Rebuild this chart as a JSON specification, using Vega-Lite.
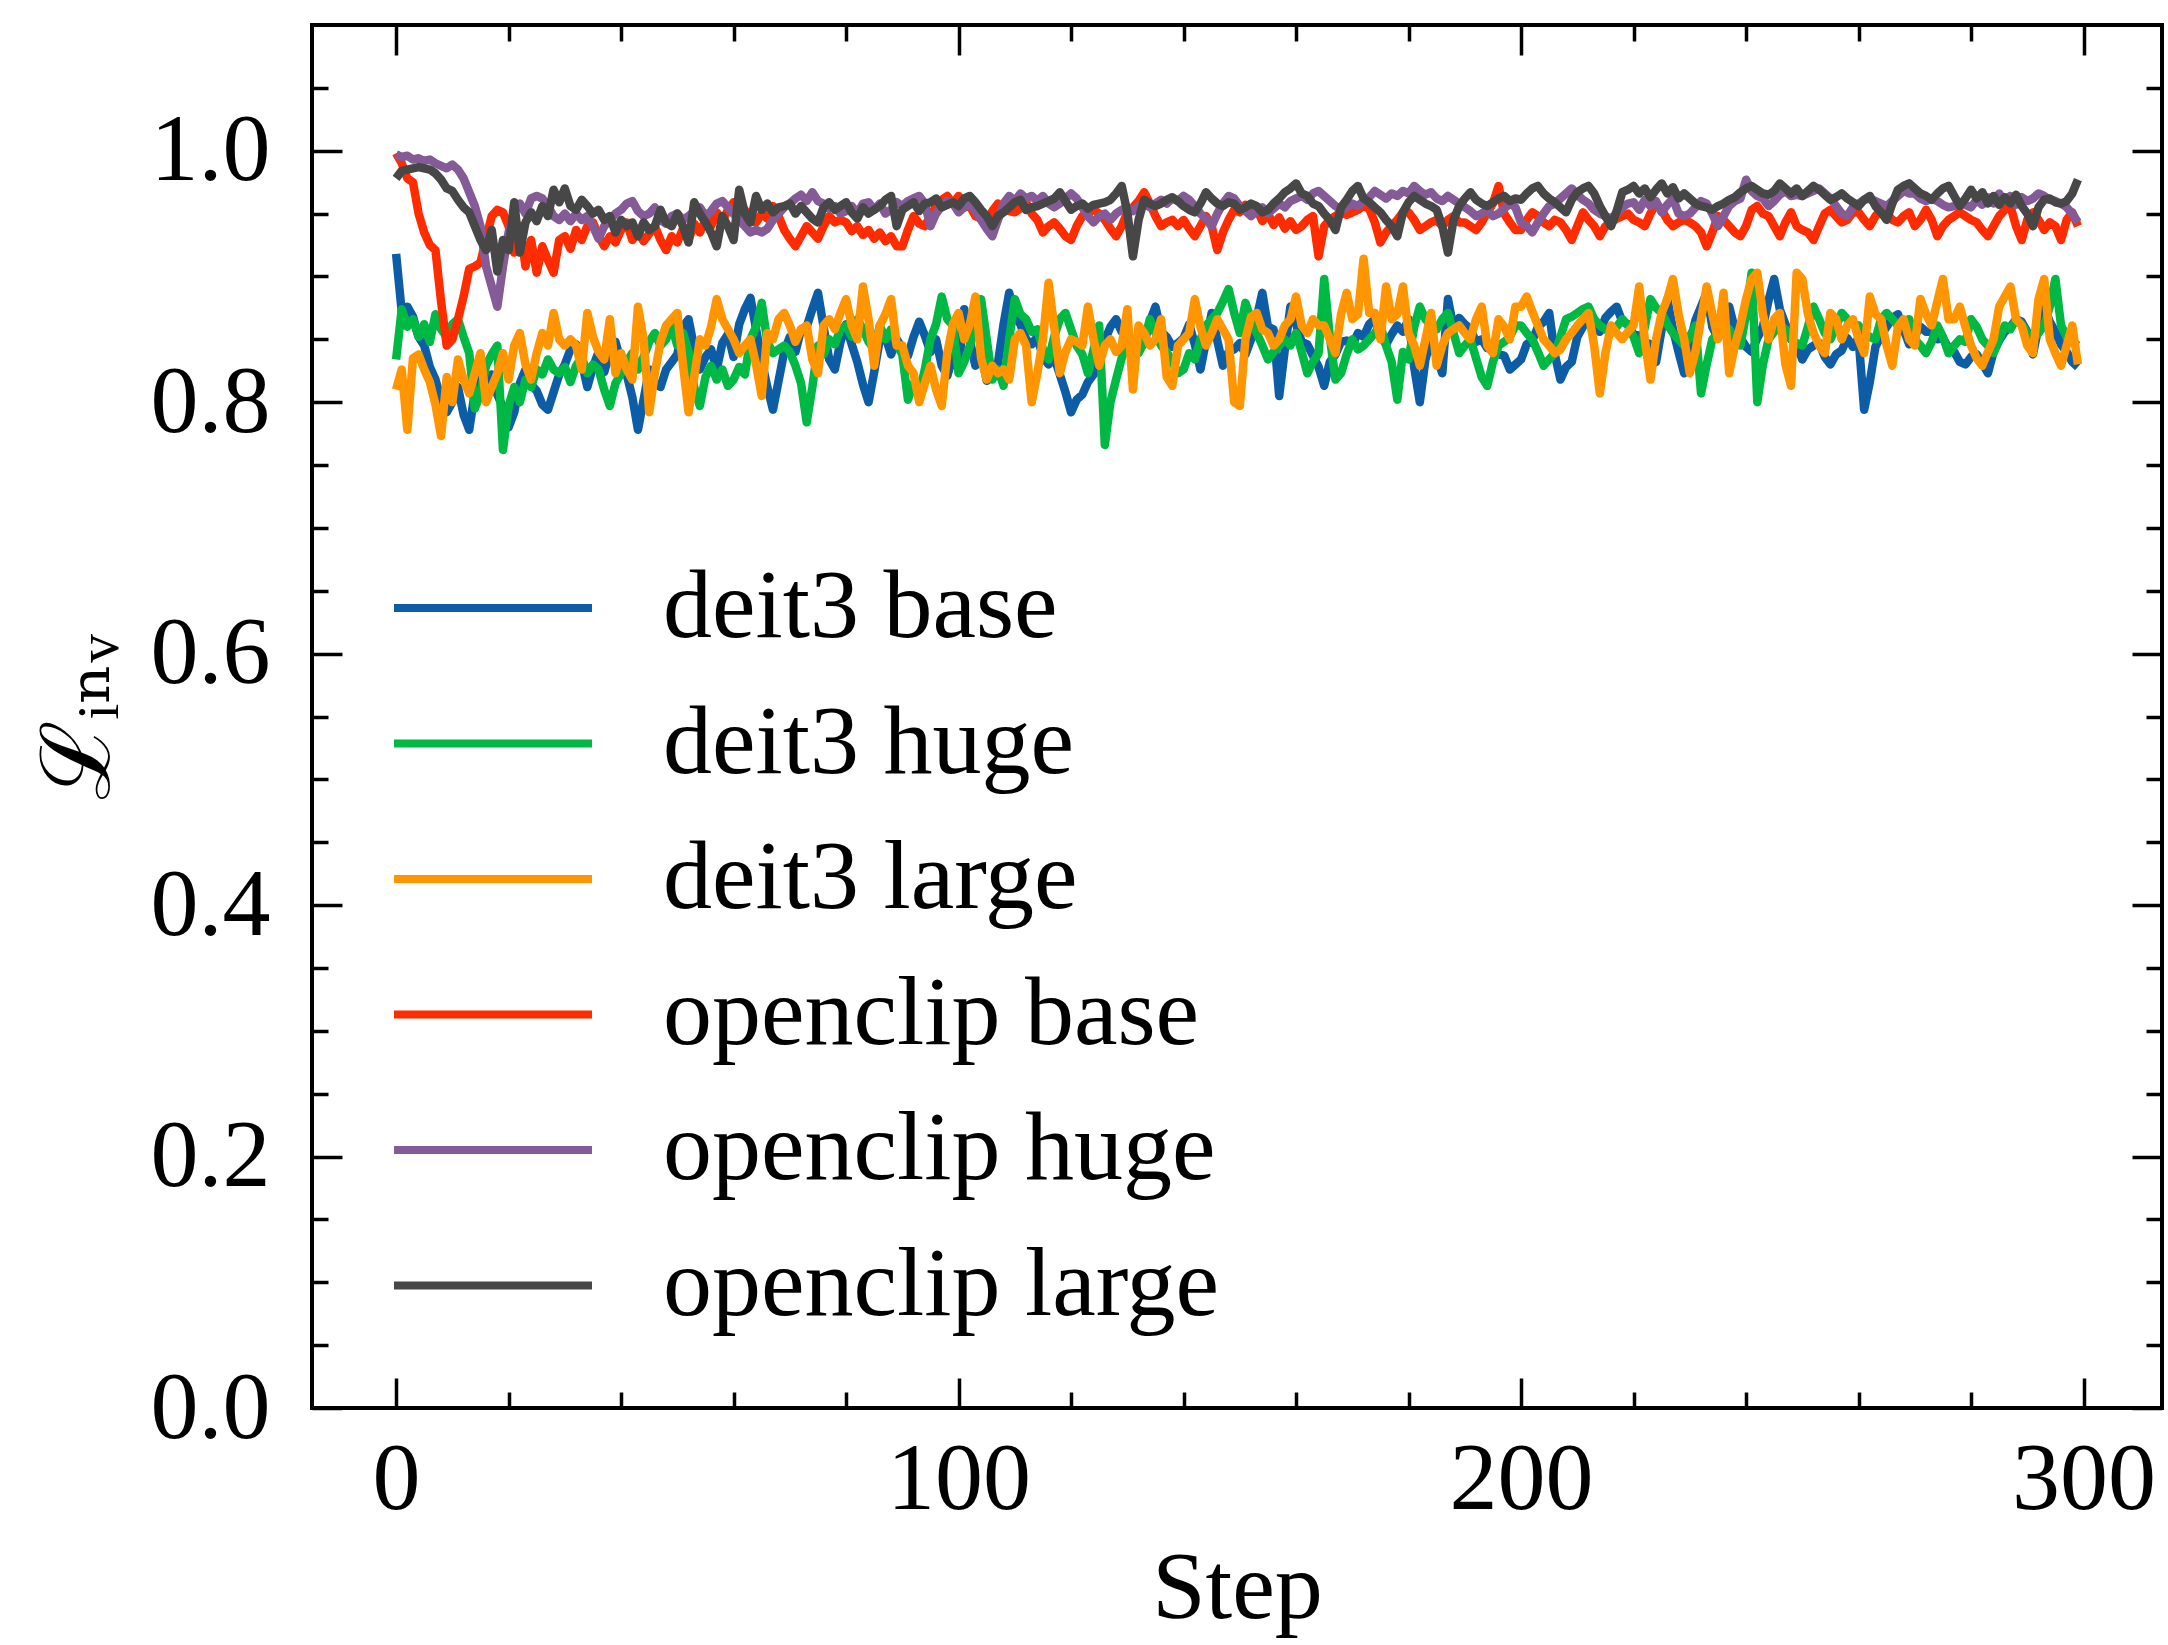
{
  "$schema": "https://vega.github.io/schema/vega-lite/v6.json",
  "width": 1850,
  "height": 1383,
  "autosize": {"type": "none"},
  "padding": {"left": 312, "top": 25, "right": 6, "bottom": 237},
  "background": "white",
  "config": {
    "view": {"stroke": "black", "strokeWidth": 4},
    "axis": {
      "grid": false,
      "domain": false,
      "labelFont": "Liberation Serif",
      "titleFont": "Liberation Serif, DejaVu Serif",
      "labelFontSize": 96,
      "titleFontSize": 96,
      "titleFontWeight": "normal",
      "labelColor": "black",
      "titleColor": "black",
      "tickColor": "black",
      "tickWidth": 3.5,
      "labelFlush": false,
      "labelOverlap": false
    },
    "legend": {
      "orient": "none",
      "legendX": 132,
      "legendY": 534,
      "padding": 0,
      "symbolType": "M-3,0H3",
      "symbolSize": 4356,
      "symbolStrokeWidth": 8,
      "labelFont": "Liberation Serif",
      "labelFontSize": 98,
      "labelColor": "black",
      "labelOffset": 121,
      "labelLimit": 0,
      "rowPadding": 37.5
    }
  },
  "data": {"values": [
    {"t":0,"a":0.918,"b":0.834,"c":0.810,"d":0.998,"e":0.997,"f":0.978},
    {"t":1,"a":0.872,"b":0.874,"c":0.826,"d":0.990,"e":0.995,"f":0.984},
    {"t":2,"a":0.876,"b":0.860,"c":0.778,"d":0.978,"e":0.996,"f":0.985},
    {"t":3,"a":0.868,"b":0.866,"c":0.835,"d":0.975,"e":0.993,"f":0.986},
    {"t":4,"a":0.852,"b":0.852,"c":0.838,"d":0.950,"e":0.994,"f":0.987},
    {"t":5,"a":0.845,"b":0.862,"c":0.826,"d":0.935,"e":0.992,"f":0.986},
    {"t":6,"a":0.828,"b":0.848,"c":0.816,"d":0.925,"e":0.993,"f":0.985},
    {"t":7,"a":0.818,"b":0.870,"c":0.798,"d":0.921,"e":0.990,"f":0.982},
    {"t":8,"a":0.802,"b":0.858,"c":0.773,"d":0.880,"e":0.988,"f":0.977},
    {"t":9,"a":0.792,"b":0.852,"c":0.820,"d":0.845,"e":0.986,"f":0.970},
    {"t":10,"a":0.800,"b":0.862,"c":0.800,"d":0.850,"e":0.989,"f":0.968},
    {"t":11,"a":0.812,"b":0.866,"c":0.834,"d":0.866,"e":0.985,"f":0.961},
    {"t":12,"a":0.790,"b":0.852,"c":0.818,"d":0.884,"e":0.978,"f":0.955},
    {"t":13,"a":0.778,"b":0.839,"c":0.807,"d":0.906,"e":0.967,"f":0.951},
    {"t":14,"a":0.808,"b":0.795,"c":0.823,"d":0.908,"e":0.956,"f":0.940},
    {"t":15,"a":0.828,"b":0.807,"c":0.839,"d":0.911,"e":0.940,"f":0.929},
    {"t":16,"a":0.816,"b":0.829,"c":0.800,"d":0.930,"e":0.908,"f":0.921},
    {"t":17,"a":0.822,"b":0.838,"c":0.812,"d":0.948,"e":0.892,"f":0.937},
    {"t":18,"a":0.806,"b":0.845,"c":0.823,"d":0.953,"e":0.876,"f":0.904},
    {"t":19,"a":0.796,"b":0.762,"c":0.839,"d":0.951,"e":0.908,"f":0.929},
    {"t":20,"a":0.780,"b":0.797,"c":0.818,"d":0.940,"e":0.935,"f":0.921},
    {"t":21,"a":0.792,"b":0.812,"c":0.845,"d":0.919,"e":0.951,"f":0.959},
    {"t":22,"a":0.815,"b":0.800,"c":0.855,"d":0.940,"e":0.958,"f":0.919},
    {"t":23,"a":0.826,"b":0.818,"c":0.830,"d":0.908,"e":0.950,"f":0.943},
    {"t":24,"a":0.814,"b":0.812,"c":0.818,"d":0.929,"e":0.962,"f":0.951},
    {"t":25,"a":0.809,"b":0.826,"c":0.839,"d":0.903,"e":0.964,"f":0.944},
    {"t":26,"a":0.798,"b":0.822,"c":0.855,"d":0.924,"e":0.962,"f":0.956},
    {"t":27,"a":0.794,"b":0.834,"c":0.845,"d":0.913,"e":0.956,"f":0.948},
    {"t":28,"a":0.808,"b":0.826,"c":0.871,"d":0.903,"e":0.948,"f":0.969},
    {"t":29,"a":0.822,"b":0.823,"c":0.850,"d":0.929,"e":0.945,"f":0.959},
    {"t":30,"a":0.830,"b":0.828,"c":0.845,"d":0.932,"e":0.950,"f":0.970},
    {"t":31,"a":0.842,"b":0.816,"c":0.850,"d":0.922,"e":0.944,"f":0.956},
    {"t":32,"a":0.846,"b":0.829,"c":0.845,"d":0.937,"e":0.950,"f":0.953},
    {"t":33,"a":0.832,"b":0.836,"c":0.826,"d":0.929,"e":0.945,"f":0.961},
    {"t":34,"a":0.812,"b":0.823,"c":0.871,"d":0.940,"e":0.948,"f":0.956},
    {"t":35,"a":0.828,"b":0.830,"c":0.852,"d":0.943,"e":0.940,"f":0.950},
    {"t":36,"a":0.840,"b":0.826,"c":0.840,"d":0.932,"e":0.930,"f":0.953},
    {"t":37,"a":0.824,"b":0.810,"c":0.834,"d":0.924,"e":0.940,"f":0.945},
    {"t":38,"a":0.840,"b":0.797,"c":0.866,"d":0.932,"e":0.945,"f":0.948},
    {"t":39,"a":0.848,"b":0.815,"c":0.823,"d":0.927,"e":0.950,"f":0.935},
    {"t":40,"a":0.832,"b":0.823,"c":0.839,"d":0.937,"e":0.953,"f":0.945},
    {"t":41,"a":0.822,"b":0.832,"c":0.826,"d":0.943,"e":0.958,"f":0.940},
    {"t":42,"a":0.804,"b":0.839,"c":0.818,"d":0.929,"e":0.960,"f":0.943},
    {"t":43,"a":0.778,"b":0.826,"c":0.876,"d":0.935,"e":0.952,"f":0.932},
    {"t":44,"a":0.802,"b":0.836,"c":0.850,"d":0.928,"e":0.948,"f":0.943},
    {"t":45,"a":0.826,"b":0.848,"c":0.792,"d":0.934,"e":0.950,"f":0.937},
    {"t":46,"a":0.815,"b":0.855,"c":0.823,"d":0.940,"e":0.955,"f":0.940},
    {"t":47,"a":0.812,"b":0.845,"c":0.848,"d":0.929,"e":0.945,"f":0.953},
    {"t":48,"a":0.826,"b":0.850,"c":0.861,"d":0.921,"e":0.942,"f":0.943},
    {"t":49,"a":0.832,"b":0.861,"c":0.866,"d":0.932,"e":0.948,"f":0.940},
    {"t":50,"a":0.838,"b":0.845,"c":0.871,"d":0.927,"e":0.950,"f":0.950},
    {"t":51,"a":0.860,"b":0.855,"c":0.830,"d":0.938,"e":0.945,"f":0.940},
    {"t":52,"a":0.866,"b":0.840,"c":0.792,"d":0.929,"e":0.948,"f":0.927},
    {"t":53,"a":0.843,"b":0.812,"c":0.820,"d":0.942,"e":0.952,"f":0.959},
    {"t":54,"a":0.826,"b":0.797,"c":0.850,"d":0.935,"e":0.955,"f":0.950},
    {"t":55,"a":0.836,"b":0.820,"c":0.845,"d":0.945,"e":0.948,"f":0.943},
    {"t":56,"a":0.842,"b":0.829,"c":0.860,"d":0.940,"e":0.952,"f":0.935},
    {"t":57,"a":0.826,"b":0.818,"c":0.882,"d":0.951,"e":0.958,"f":0.924},
    {"t":58,"a":0.847,"b":0.826,"c":0.866,"d":0.944,"e":0.960,"f":0.948},
    {"t":59,"a":0.854,"b":0.813,"c":0.858,"d":0.953,"e":0.955,"f":0.940},
    {"t":60,"a":0.836,"b":0.818,"c":0.850,"d":0.959,"e":0.950,"f":0.929},
    {"t":61,"a":0.862,"b":0.828,"c":0.839,"d":0.950,"e":0.945,"f":0.969},
    {"t":62,"a":0.874,"b":0.822,"c":0.845,"d":0.953,"e":0.940,"f":0.950},
    {"t":63,"a":0.883,"b":0.850,"c":0.850,"d":0.945,"e":0.935,"f":0.943},
    {"t":64,"a":0.858,"b":0.860,"c":0.830,"d":0.943,"e":0.937,"f":0.964},
    {"t":65,"a":0.833,"b":0.879,"c":0.805,"d":0.950,"e":0.935,"f":0.953},
    {"t":66,"a":0.812,"b":0.848,"c":0.855,"d":0.946,"e":0.938,"f":0.958},
    {"t":67,"a":0.794,"b":0.839,"c":0.850,"d":0.956,"e":0.945,"f":0.951},
    {"t":68,"a":0.817,"b":0.842,"c":0.866,"d":0.948,"e":0.950,"f":0.955},
    {"t":69,"a":0.840,"b":0.845,"c":0.871,"d":0.937,"e":0.955,"f":0.956},
    {"t":70,"a":0.852,"b":0.840,"c":0.861,"d":0.930,"e":0.958,"f":0.958},
    {"t":71,"a":0.840,"b":0.829,"c":0.848,"d":0.924,"e":0.962,"f":0.950},
    {"t":72,"a":0.858,"b":0.815,"c":0.858,"d":0.932,"e":0.965,"f":0.956},
    {"t":73,"a":0.860,"b":0.784,"c":0.861,"d":0.940,"e":0.960,"f":0.951},
    {"t":74,"a":0.874,"b":0.812,"c":0.834,"d":0.935,"e":0.967,"f":0.946},
    {"t":75,"a":0.887,"b":0.845,"c":0.823,"d":0.930,"e":0.960,"f":0.943},
    {"t":76,"a":0.860,"b":0.838,"c":0.861,"d":0.940,"e":0.958,"f":0.955},
    {"t":77,"a":0.834,"b":0.850,"c":0.866,"d":0.948,"e":0.954,"f":0.959},
    {"t":78,"a":0.826,"b":0.846,"c":0.858,"d":0.943,"e":0.956,"f":0.953},
    {"t":79,"a":0.848,"b":0.858,"c":0.871,"d":0.945,"e":0.950,"f":0.956},
    {"t":80,"a":0.862,"b":0.861,"c":0.882,"d":0.943,"e":0.952,"f":0.959},
    {"t":81,"a":0.846,"b":0.852,"c":0.861,"d":0.936,"e":0.956,"f":0.951},
    {"t":82,"a":0.832,"b":0.866,"c":0.850,"d":0.940,"e":0.950,"f":0.946},
    {"t":83,"a":0.814,"b":0.858,"c":0.892,"d":0.933,"e":0.958,"f":0.955},
    {"t":84,"a":0.800,"b":0.848,"c":0.866,"d":0.937,"e":0.959,"f":0.950},
    {"t":85,"a":0.824,"b":0.842,"c":0.829,"d":0.930,"e":0.953,"f":0.953},
    {"t":86,"a":0.850,"b":0.861,"c":0.861,"d":0.935,"e":0.958,"f":0.956},
    {"t":87,"a":0.852,"b":0.850,"c":0.870,"d":0.928,"e":0.950,"f":0.961},
    {"t":88,"a":0.838,"b":0.858,"c":0.882,"d":0.932,"e":0.953,"f":0.964},
    {"t":89,"a":0.850,"b":0.846,"c":0.845,"d":0.924,"e":0.959,"f":0.940},
    {"t":90,"a":0.843,"b":0.838,"c":0.845,"d":0.924,"e":0.956,"f":0.953},
    {"t":91,"a":0.837,"b":0.802,"c":0.829,"d":0.937,"e":0.960,"f":0.956},
    {"t":92,"a":0.852,"b":0.815,"c":0.823,"d":0.948,"e":0.962,"f":0.959},
    {"t":93,"a":0.864,"b":0.807,"c":0.800,"d":0.942,"e":0.964,"f":0.952},
    {"t":94,"a":0.853,"b":0.826,"c":0.815,"d":0.940,"e":0.958,"f":0.958},
    {"t":95,"a":0.840,"b":0.850,"c":0.829,"d":0.948,"e":0.940,"f":0.959},
    {"t":96,"a":0.850,"b":0.862,"c":0.810,"d":0.956,"e":0.950,"f":0.962},
    {"t":97,"a":0.829,"b":0.884,"c":0.797,"d":0.961,"e":0.956,"f":0.955},
    {"t":98,"a":0.821,"b":0.866,"c":0.839,"d":0.964,"e":0.960,"f":0.957},
    {"t":99,"a":0.837,"b":0.861,"c":0.862,"d":0.958,"e":0.958,"f":0.959},
    {"t":100,"a":0.826,"b":0.823,"c":0.871,"d":0.964,"e":0.951,"f":0.956},
    {"t":101,"a":0.874,"b":0.832,"c":0.850,"d":0.955,"e":0.955,"f":0.962},
    {"t":102,"a":0.849,"b":0.845,"c":0.862,"d":0.956,"e":0.958,"f":0.964},
    {"t":103,"a":0.829,"b":0.862,"c":0.884,"d":0.948,"e":0.952,"f":0.959},
    {"t":104,"a":0.840,"b":0.882,"c":0.835,"d":0.946,"e":0.945,"f":0.953},
    {"t":105,"a":0.817,"b":0.850,"c":0.818,"d":0.942,"e":0.938,"f":0.948},
    {"t":106,"a":0.828,"b":0.818,"c":0.829,"d":0.952,"e":0.932,"f":0.940},
    {"t":107,"a":0.831,"b":0.826,"c":0.823,"d":0.958,"e":0.945,"f":0.948},
    {"t":108,"a":0.862,"b":0.813,"c":0.826,"d":0.953,"e":0.958,"f":0.951},
    {"t":109,"a":0.887,"b":0.850,"c":0.818,"d":0.952,"e":0.964,"f":0.955},
    {"t":110,"a":0.868,"b":0.882,"c":0.850,"d":0.951,"e":0.960,"f":0.959},
    {"t":111,"a":0.862,"b":0.870,"c":0.855,"d":0.954,"e":0.966,"f":0.961},
    {"t":112,"a":0.850,"b":0.866,"c":0.845,"d":0.959,"e":0.962,"f":0.953},
    {"t":113,"a":0.846,"b":0.856,"c":0.800,"d":0.950,"e":0.964,"f":0.955},
    {"t":114,"a":0.852,"b":0.858,"c":0.823,"d":0.945,"e":0.960,"f":0.956},
    {"t":115,"a":0.836,"b":0.842,"c":0.850,"d":0.935,"e":0.964,"f":0.958},
    {"t":116,"a":0.830,"b":0.834,"c":0.895,"d":0.940,"e":0.958,"f":0.960},
    {"t":117,"a":0.836,"b":0.852,"c":0.860,"d":0.943,"e":0.955,"f":0.962},
    {"t":118,"a":0.822,"b":0.866,"c":0.823,"d":0.938,"e":0.958,"f":0.967},
    {"t":119,"a":0.808,"b":0.871,"c":0.840,"d":0.932,"e":0.962,"f":0.960},
    {"t":120,"a":0.792,"b":0.858,"c":0.850,"d":0.929,"e":0.966,"f":0.953},
    {"t":121,"a":0.802,"b":0.845,"c":0.848,"d":0.940,"e":0.962,"f":0.956},
    {"t":122,"a":0.806,"b":0.838,"c":0.845,"d":0.948,"e":0.955,"f":0.958},
    {"t":123,"a":0.816,"b":0.823,"c":0.876,"d":0.951,"e":0.948,"f":0.954},
    {"t":124,"a":0.822,"b":0.842,"c":0.850,"d":0.953,"e":0.943,"f":0.957},
    {"t":125,"a":0.838,"b":0.861,"c":0.829,"d":0.950,"e":0.948,"f":0.958},
    {"t":126,"a":0.849,"b":0.766,"c":0.845,"d":0.945,"e":0.950,"f":0.959},
    {"t":127,"a":0.860,"b":0.800,"c":0.850,"d":0.938,"e":0.945,"f":0.961},
    {"t":128,"a":0.866,"b":0.818,"c":0.840,"d":0.932,"e":0.950,"f":0.966},
    {"t":129,"a":0.856,"b":0.835,"c":0.845,"d":0.940,"e":0.953,"f":0.972},
    {"t":130,"a":0.852,"b":0.850,"c":0.874,"d":0.951,"e":0.955,"f":0.951},
    {"t":131,"a":0.840,"b":0.845,"c":0.810,"d":0.955,"e":0.952,"f":0.916},
    {"t":132,"a":0.841,"b":0.839,"c":0.861,"d":0.960,"e":0.956,"f":0.945},
    {"t":133,"a":0.847,"b":0.848,"c":0.855,"d":0.967,"e":0.958,"f":0.961},
    {"t":134,"a":0.864,"b":0.866,"c":0.845,"d":0.958,"e":0.955,"f":0.958},
    {"t":135,"a":0.876,"b":0.855,"c":0.850,"d":0.948,"e":0.958,"f":0.956},
    {"t":136,"a":0.856,"b":0.845,"c":0.866,"d":0.940,"e":0.961,"f":0.958},
    {"t":137,"a":0.852,"b":0.840,"c":0.820,"d":0.943,"e":0.958,"f":0.961},
    {"t":138,"a":0.844,"b":0.832,"c":0.813,"d":0.945,"e":0.962,"f":0.963},
    {"t":139,"a":0.847,"b":0.823,"c":0.845,"d":0.940,"e":0.960,"f":0.960},
    {"t":140,"a":0.851,"b":0.826,"c":0.850,"d":0.945,"e":0.964,"f":0.956},
    {"t":141,"a":0.862,"b":0.839,"c":0.855,"d":0.938,"e":0.961,"f":0.953},
    {"t":142,"a":0.846,"b":0.834,"c":0.882,"d":0.932,"e":0.956,"f":0.951},
    {"t":143,"a":0.826,"b":0.850,"c":0.860,"d":0.940,"e":0.950,"f":0.958},
    {"t":144,"a":0.849,"b":0.861,"c":0.845,"d":0.948,"e":0.946,"f":0.967},
    {"t":145,"a":0.871,"b":0.866,"c":0.855,"d":0.940,"e":0.940,"f":0.962},
    {"t":146,"a":0.849,"b":0.871,"c":0.866,"d":0.921,"e":0.950,"f":0.958},
    {"t":147,"a":0.829,"b":0.880,"c":0.858,"d":0.935,"e":0.958,"f":0.956},
    {"t":148,"a":0.840,"b":0.890,"c":0.850,"d":0.945,"e":0.964,"f":0.959},
    {"t":149,"a":0.842,"b":0.871,"c":0.800,"d":0.953,"e":0.962,"f":0.958},
    {"t":150,"a":0.847,"b":0.855,"c":0.797,"d":0.951,"e":0.956,"f":0.953},
    {"t":151,"a":0.838,"b":0.879,"c":0.850,"d":0.957,"e":0.952,"f":0.955},
    {"t":152,"a":0.850,"b":0.866,"c":0.868,"d":0.950,"e":0.948,"f":0.958},
    {"t":153,"a":0.867,"b":0.855,"c":0.871,"d":0.954,"e":0.952,"f":0.956},
    {"t":154,"a":0.887,"b":0.845,"c":0.858,"d":0.944,"e":0.955,"f":0.951},
    {"t":155,"a":0.860,"b":0.834,"c":0.855,"d":0.950,"e":0.950,"f":0.953},
    {"t":156,"a":0.858,"b":0.840,"c":0.845,"d":0.941,"e":0.954,"f":0.958},
    {"t":157,"a":0.805,"b":0.845,"c":0.850,"d":0.947,"e":0.958,"f":0.962},
    {"t":158,"a":0.842,"b":0.850,"c":0.861,"d":0.938,"e":0.955,"f":0.967},
    {"t":159,"a":0.876,"b":0.845,"c":0.866,"d":0.944,"e":0.960,"f":0.970},
    {"t":160,"a":0.862,"b":0.855,"c":0.884,"d":0.937,"e":0.962,"f":0.974},
    {"t":161,"a":0.848,"b":0.840,"c":0.861,"d":0.940,"e":0.964,"f":0.966},
    {"t":162,"a":0.846,"b":0.823,"c":0.855,"d":0.945,"e":0.961,"f":0.964},
    {"t":163,"a":0.837,"b":0.832,"c":0.866,"d":0.948,"e":0.966,"f":0.958},
    {"t":164,"a":0.828,"b":0.839,"c":0.861,"d":0.916,"e":0.968,"f":0.956},
    {"t":165,"a":0.813,"b":0.898,"c":0.861,"d":0.940,"e":0.964,"f":0.950},
    {"t":166,"a":0.832,"b":0.852,"c":0.850,"d":0.945,"e":0.960,"f":0.945},
    {"t":167,"a":0.838,"b":0.818,"c":0.839,"d":0.948,"e":0.956,"f":0.937},
    {"t":168,"a":0.848,"b":0.823,"c":0.870,"d":0.951,"e":0.953,"f":0.955},
    {"t":169,"a":0.849,"b":0.838,"c":0.887,"d":0.949,"e":0.955,"f":0.961},
    {"t":170,"a":0.846,"b":0.850,"c":0.866,"d":0.951,"e":0.958,"f":0.968},
    {"t":171,"a":0.855,"b":0.842,"c":0.870,"d":0.953,"e":0.956,"f":0.972},
    {"t":172,"a":0.852,"b":0.845,"c":0.914,"d":0.956,"e":0.960,"f":0.962},
    {"t":173,"a":0.862,"b":0.850,"c":0.871,"d":0.954,"e":0.963,"f":0.959},
    {"t":174,"a":0.866,"b":0.855,"c":0.871,"d":0.943,"e":0.968,"f":0.955},
    {"t":175,"a":0.853,"b":0.861,"c":0.850,"d":0.927,"e":0.965,"f":0.951},
    {"t":176,"a":0.846,"b":0.845,"c":0.892,"d":0.935,"e":0.962,"f":0.945},
    {"t":177,"a":0.854,"b":0.832,"c":0.866,"d":0.940,"e":0.966,"f":0.940},
    {"t":178,"a":0.861,"b":0.802,"c":0.870,"d":0.945,"e":0.964,"f":0.932},
    {"t":179,"a":0.856,"b":0.840,"c":0.892,"d":0.951,"e":0.968,"f":0.951},
    {"t":180,"a":0.866,"b":0.834,"c":0.855,"d":0.951,"e":0.966,"f":0.959},
    {"t":181,"a":0.828,"b":0.860,"c":0.845,"d":0.945,"e":0.972,"f":0.964},
    {"t":182,"a":0.800,"b":0.876,"c":0.829,"d":0.937,"e":0.968,"f":0.961},
    {"t":183,"a":0.834,"b":0.866,"c":0.850,"d":0.940,"e":0.965,"f":0.958},
    {"t":184,"a":0.850,"b":0.861,"c":0.871,"d":0.943,"e":0.967,"f":0.956},
    {"t":185,"a":0.836,"b":0.858,"c":0.829,"d":0.945,"e":0.962,"f":0.953},
    {"t":186,"a":0.823,"b":0.866,"c":0.845,"d":0.940,"e":0.960,"f":0.940},
    {"t":187,"a":0.882,"b":0.871,"c":0.855,"d":0.945,"e":0.964,"f":0.919},
    {"t":188,"a":0.859,"b":0.855,"c":0.858,"d":0.948,"e":0.961,"f":0.945},
    {"t":189,"a":0.867,"b":0.839,"c":0.861,"d":0.943,"e":0.958,"f":0.956},
    {"t":190,"a":0.862,"b":0.845,"c":0.855,"d":0.943,"e":0.955,"f":0.962},
    {"t":191,"a":0.858,"b":0.850,"c":0.850,"d":0.940,"e":0.952,"f":0.967},
    {"t":192,"a":0.848,"b":0.835,"c":0.866,"d":0.937,"e":0.948,"f":0.961},
    {"t":193,"a":0.850,"b":0.820,"c":0.876,"d":0.943,"e":0.950,"f":0.958},
    {"t":194,"a":0.843,"b":0.813,"c":0.845,"d":0.951,"e":0.953,"f":0.956},
    {"t":195,"a":0.846,"b":0.832,"c":0.839,"d":0.958,"e":0.948,"f":0.959},
    {"t":196,"a":0.838,"b":0.845,"c":0.866,"d":0.972,"e":0.950,"f":0.962},
    {"t":197,"a":0.837,"b":0.848,"c":0.860,"d":0.950,"e":0.954,"f":0.964},
    {"t":198,"a":0.826,"b":0.852,"c":0.850,"d":0.943,"e":0.958,"f":0.960},
    {"t":199,"a":0.830,"b":0.861,"c":0.876,"d":0.937,"e":0.955,"f":0.962},
    {"t":200,"a":0.834,"b":0.861,"c":0.876,"d":0.937,"e":0.943,"f":0.961},
    {"t":201,"a":0.846,"b":0.855,"c":0.884,"d":0.945,"e":0.940,"f":0.966},
    {"t":202,"a":0.849,"b":0.850,"c":0.872,"d":0.951,"e":0.935,"f":0.970},
    {"t":203,"a":0.860,"b":0.840,"c":0.861,"d":0.948,"e":0.943,"f":0.972},
    {"t":204,"a":0.864,"b":0.829,"c":0.850,"d":0.943,"e":0.950,"f":0.966},
    {"t":205,"a":0.871,"b":0.834,"c":0.845,"d":0.940,"e":0.956,"f":0.962},
    {"t":206,"a":0.838,"b":0.839,"c":0.839,"d":0.945,"e":0.958,"f":0.959},
    {"t":207,"a":0.818,"b":0.852,"c":0.842,"d":0.943,"e":0.962,"f":0.955},
    {"t":208,"a":0.828,"b":0.866,"c":0.850,"d":0.937,"e":0.966,"f":0.951},
    {"t":209,"a":0.832,"b":0.868,"c":0.855,"d":0.929,"e":0.970,"f":0.961},
    {"t":210,"a":0.852,"b":0.871,"c":0.861,"d":0.940,"e":0.965,"f":0.967},
    {"t":211,"a":0.860,"b":0.874,"c":0.866,"d":0.951,"e":0.961,"f":0.970},
    {"t":212,"a":0.867,"b":0.876,"c":0.871,"d":0.945,"e":0.958,"f":0.972},
    {"t":213,"a":0.858,"b":0.866,"c":0.845,"d":0.940,"e":0.953,"f":0.966},
    {"t":214,"a":0.856,"b":0.861,"c":0.807,"d":0.932,"e":0.950,"f":0.956},
    {"t":215,"a":0.867,"b":0.858,"c":0.839,"d":0.940,"e":0.948,"f":0.948},
    {"t":216,"a":0.872,"b":0.855,"c":0.861,"d":0.943,"e":0.946,"f":0.940},
    {"t":217,"a":0.876,"b":0.860,"c":0.855,"d":0.946,"e":0.950,"f":0.952},
    {"t":218,"a":0.864,"b":0.866,"c":0.850,"d":0.948,"e":0.955,"f":0.967},
    {"t":219,"a":0.862,"b":0.861,"c":0.856,"d":0.950,"e":0.958,"f":0.969},
    {"t":220,"a":0.854,"b":0.852,"c":0.861,"d":0.945,"e":0.959,"f":0.972},
    {"t":221,"a":0.853,"b":0.839,"c":0.892,"d":0.943,"e":0.953,"f":0.966},
    {"t":222,"a":0.848,"b":0.860,"c":0.850,"d":0.940,"e":0.961,"f":0.970},
    {"t":223,"a":0.846,"b":0.882,"c":0.818,"d":0.950,"e":0.956,"f":0.963},
    {"t":224,"a":0.832,"b":0.875,"c":0.850,"d":0.958,"e":0.960,"f":0.969},
    {"t":225,"a":0.858,"b":0.871,"c":0.871,"d":0.953,"e":0.951,"f":0.974},
    {"t":226,"a":0.882,"b":0.862,"c":0.882,"d":0.945,"e":0.957,"f":0.966},
    {"t":227,"a":0.858,"b":0.855,"c":0.898,"d":0.940,"e":0.962,"f":0.971},
    {"t":228,"a":0.840,"b":0.850,"c":0.870,"d":0.943,"e":0.950,"f":0.962},
    {"t":229,"a":0.823,"b":0.845,"c":0.850,"d":0.945,"e":0.948,"f":0.966},
    {"t":230,"a":0.846,"b":0.852,"c":0.823,"d":0.943,"e":0.950,"f":0.962},
    {"t":231,"a":0.865,"b":0.861,"c":0.840,"d":0.940,"e":0.955,"f":0.958},
    {"t":232,"a":0.876,"b":0.807,"c":0.866,"d":0.935,"e":0.960,"f":0.956},
    {"t":233,"a":0.887,"b":0.830,"c":0.892,"d":0.924,"e":0.958,"f":0.955},
    {"t":234,"a":0.860,"b":0.850,"c":0.870,"d":0.935,"e":0.950,"f":0.953},
    {"t":235,"a":0.851,"b":0.855,"c":0.850,"d":0.948,"e":0.940,"f":0.956},
    {"t":236,"a":0.870,"b":0.861,"c":0.887,"d":0.945,"e":0.948,"f":0.958},
    {"t":237,"a":0.876,"b":0.858,"c":0.823,"d":0.940,"e":0.956,"f":0.961},
    {"t":238,"a":0.858,"b":0.850,"c":0.845,"d":0.935,"e":0.960,"f":0.963},
    {"t":239,"a":0.851,"b":0.845,"c":0.861,"d":0.932,"e":0.962,"f":0.967},
    {"t":240,"a":0.844,"b":0.870,"c":0.882,"d":0.940,"e":0.977,"f":0.970},
    {"t":241,"a":0.840,"b":0.903,"c":0.898,"d":0.953,"e":0.968,"f":0.972},
    {"t":242,"a":0.851,"b":0.800,"c":0.903,"d":0.956,"e":0.964,"f":0.969},
    {"t":243,"a":0.860,"b":0.830,"c":0.870,"d":0.950,"e":0.962,"f":0.966},
    {"t":244,"a":0.881,"b":0.850,"c":0.850,"d":0.948,"e":0.956,"f":0.965},
    {"t":245,"a":0.898,"b":0.856,"c":0.866,"d":0.940,"e":0.960,"f":0.968},
    {"t":246,"a":0.874,"b":0.861,"c":0.871,"d":0.932,"e":0.965,"f":0.974},
    {"t":247,"a":0.862,"b":0.858,"c":0.830,"d":0.943,"e":0.968,"f":0.970},
    {"t":248,"a":0.850,"b":0.850,"c":0.813,"d":0.951,"e":0.964,"f":0.966},
    {"t":249,"a":0.846,"b":0.847,"c":0.903,"d":0.940,"e":0.965,"f":0.970},
    {"t":250,"a":0.834,"b":0.845,"c":0.898,"d":0.937,"e":0.964,"f":0.964},
    {"t":251,"a":0.842,"b":0.860,"c":0.870,"d":0.935,"e":0.966,"f":0.968},
    {"t":252,"a":0.845,"b":0.876,"c":0.855,"d":0.929,"e":0.968,"f":0.972},
    {"t":253,"a":0.847,"b":0.866,"c":0.845,"d":0.940,"e":0.970,"f":0.969},
    {"t":254,"a":0.836,"b":0.855,"c":0.839,"d":0.950,"e":0.966,"f":0.965},
    {"t":255,"a":0.830,"b":0.850,"c":0.871,"d":0.953,"e":0.962,"f":0.961},
    {"t":256,"a":0.838,"b":0.860,"c":0.866,"d":0.948,"e":0.956,"f":0.963},
    {"t":257,"a":0.841,"b":0.871,"c":0.850,"d":0.943,"e":0.950,"f":0.966},
    {"t":258,"a":0.851,"b":0.866,"c":0.861,"d":0.945,"e":0.948,"f":0.962},
    {"t":259,"a":0.844,"b":0.862,"c":0.866,"d":0.951,"e":0.955,"f":0.959},
    {"t":260,"a":0.851,"b":0.861,"c":0.850,"d":0.951,"e":0.958,"f":0.956},
    {"t":261,"a":0.794,"b":0.855,"c":0.839,"d":0.945,"e":0.961,"f":0.961},
    {"t":262,"a":0.816,"b":0.852,"c":0.884,"d":0.940,"e":0.962,"f":0.964},
    {"t":263,"a":0.844,"b":0.850,"c":0.870,"d":0.948,"e":0.960,"f":0.956},
    {"t":264,"a":0.853,"b":0.866,"c":0.866,"d":0.953,"e":0.958,"f":0.951},
    {"t":265,"a":0.860,"b":0.871,"c":0.845,"d":0.950,"e":0.956,"f":0.945},
    {"t":266,"a":0.867,"b":0.866,"c":0.829,"d":0.945,"e":0.960,"f":0.958},
    {"t":267,"a":0.870,"b":0.861,"c":0.860,"d":0.943,"e":0.964,"f":0.969},
    {"t":268,"a":0.858,"b":0.864,"c":0.866,"d":0.948,"e":0.968,"f":0.972},
    {"t":269,"a":0.846,"b":0.866,"c":0.850,"d":0.951,"e":0.966,"f":0.974},
    {"t":270,"a":0.853,"b":0.850,"c":0.845,"d":0.940,"e":0.966,"f":0.970},
    {"t":271,"a":0.860,"b":0.845,"c":0.882,"d":0.945,"e":0.962,"f":0.966},
    {"t":272,"a":0.856,"b":0.839,"c":0.870,"d":0.953,"e":0.960,"f":0.964},
    {"t":273,"a":0.856,"b":0.848,"c":0.861,"d":0.945,"e":0.962,"f":0.961},
    {"t":274,"a":0.850,"b":0.861,"c":0.880,"d":0.932,"e":0.960,"f":0.966},
    {"t":275,"a":0.851,"b":0.852,"c":0.898,"d":0.940,"e":0.957,"f":0.970},
    {"t":276,"a":0.843,"b":0.839,"c":0.866,"d":0.945,"e":0.955,"f":0.972},
    {"t":277,"a":0.840,"b":0.845,"c":0.866,"d":0.948,"e":0.956,"f":0.964},
    {"t":278,"a":0.832,"b":0.850,"c":0.876,"d":0.951,"e":0.958,"f":0.956},
    {"t":279,"a":0.830,"b":0.848,"c":0.860,"d":0.948,"e":0.957,"f":0.962},
    {"t":280,"a":0.836,"b":0.866,"c":0.845,"d":0.945,"e":0.955,"f":0.969},
    {"t":281,"a":0.838,"b":0.860,"c":0.835,"d":0.943,"e":0.961,"f":0.962},
    {"t":282,"a":0.831,"b":0.850,"c":0.829,"d":0.937,"e":0.957,"f":0.967},
    {"t":283,"a":0.823,"b":0.845,"c":0.840,"d":0.932,"e":0.963,"f":0.958},
    {"t":284,"a":0.840,"b":0.839,"c":0.850,"d":0.940,"e":0.958,"f":0.964},
    {"t":285,"a":0.849,"b":0.850,"c":0.876,"d":0.948,"e":0.966,"f":0.957},
    {"t":286,"a":0.856,"b":0.861,"c":0.884,"d":0.953,"e":0.960,"f":0.963},
    {"t":287,"a":0.860,"b":0.858,"c":0.892,"d":0.956,"e":0.964,"f":0.958},
    {"t":288,"a":0.866,"b":0.866,"c":0.866,"d":0.940,"e":0.957,"f":0.965},
    {"t":289,"a":0.864,"b":0.862,"c":0.861,"d":0.929,"e":0.963,"f":0.956},
    {"t":290,"a":0.856,"b":0.855,"c":0.845,"d":0.945,"e":0.960,"f":0.950},
    {"t":291,"a":0.838,"b":0.850,"c":0.839,"d":0.951,"e":0.962,"f":0.940},
    {"t":292,"a":0.860,"b":0.855,"c":0.882,"d":0.945,"e":0.966,"f":0.955},
    {"t":293,"a":0.876,"b":0.861,"c":0.898,"d":0.937,"e":0.964,"f":0.961},
    {"t":294,"a":0.864,"b":0.876,"c":0.850,"d":0.943,"e":0.961,"f":0.962},
    {"t":295,"a":0.856,"b":0.898,"c":0.839,"d":0.940,"e":0.960,"f":0.959},
    {"t":296,"a":0.846,"b":0.861,"c":0.829,"d":0.929,"e":0.958,"f":0.958},
    {"t":297,"a":0.840,"b":0.852,"c":0.845,"d":0.945,"e":0.955,"f":0.960},
    {"t":298,"a":0.832,"b":0.848,"c":0.861,"d":0.951,"e":0.950,"f":0.966},
    {"t":299,"a":0.828,"b":0.845,"c":0.830,"d":0.940,"e":0.943,"f":0.977}
  ]},
  "transform": [{"fold": ["a", "b", "c", "d", "e", "f"], "as": ["k", "v"]}],
  "layer": [
    {
      "mark": {"type": "line", "strokeWidth": 8.5, "strokeJoin": "round"},
      "encoding": {
        "x": {
          "field": "t", "type": "quantitative",
          "scale": {"domain": [-14.95, 313.95], "nice": false, "zero": false},
          "axis": {"orient": "bottom", "values": [0, 100, 200, 300], "ticks": false, "labelPadding": 24, "title": "Step", "titlePadding": 14}
        },
        "y": {
          "field": "v", "type": "quantitative",
          "scale": {"domain": [0, 1.1], "nice": false, "zero": false},
          "axis": {"orient": "left", "values": [0, 0.2, 0.4, 0.6, 0.8, 1.0], "format": ".1f", "ticks": false, "labelPadding": 42, "title": "ℒᵢₙᵥ", "titlePadding": 22}
        },
        "color": {
          "field": "k", "type": "nominal",
          "scale": {"domain": ["a", "b", "c", "d", "e", "f"], "range": ["#0C5DA5", "#00B945", "#FF9500", "#FF2C00", "#845B97", "#474747"]},
          "legend": {
            "title": null,
            "labelExpr": "datum.label == 'a' ? 'deit3 base' : datum.label == 'b' ? 'deit3 huge' : datum.label == 'c' ? 'deit3 large' : datum.label == 'd' ? 'openclip base' : datum.label == 'e' ? 'openclip huge' : 'openclip large'"
          }
        }
      }
    },
    {
      "mark": {"type": "point", "opacity": 0},
      "encoding": {
        "x": {"field": "t", "type": "quantitative", "axis": {"orient": "bottom", "values": [0, 100, 200, 300], "labels": false, "tickSize": -30, "title": null}},
        "y": {"field": "v", "type": "quantitative", "axis": {"orient": "left", "values": [0, 0.2, 0.4, 0.6, 0.8, 1.0], "labels": false, "tickSize": -30, "title": null}}
      }
    },
    {
      "mark": {"type": "point", "opacity": 0},
      "encoding": {
        "x": {"field": "t", "type": "quantitative", "axis": {"orient": "bottom", "values": [20, 40, 60, 80, 120, 140, 160, 180, 220, 240, 260, 280], "labels": false, "tickSize": -16, "title": null}},
        "y": {"field": "v", "type": "quantitative", "axis": {"orient": "left", "values": [0.05, 0.1, 0.15, 0.25, 0.3, 0.35, 0.45, 0.5, 0.55, 0.65, 0.7, 0.75, 0.85, 0.9, 0.95, 1.05], "labels": false, "tickSize": -16, "title": null}}
      }
    },
    {
      "mark": {"type": "point", "opacity": 0},
      "encoding": {
        "x": {"field": "t", "type": "quantitative", "axis": {"orient": "top", "values": [0, 100, 200, 300], "labels": false, "tickSize": -30, "title": null}},
        "y": {"field": "v", "type": "quantitative", "axis": {"orient": "right", "values": [0, 0.2, 0.4, 0.6, 0.8, 1.0], "labels": false, "tickSize": -30, "title": null}}
      }
    },
    {
      "mark": {"type": "point", "opacity": 0},
      "encoding": {
        "x": {"field": "t", "type": "quantitative", "axis": {"orient": "top", "values": [20, 40, 60, 80, 120, 140, 160, 180, 220, 240, 260, 280], "labels": false, "tickSize": -16, "title": null}},
        "y": {"field": "v", "type": "quantitative", "axis": {"orient": "right", "values": [0.05, 0.1, 0.15, 0.25, 0.3, 0.35, 0.45, 0.5, 0.55, 0.65, 0.7, 0.75, 0.85, 0.9, 0.95, 1.05], "labels": false, "tickSize": -16, "title": null}}
      }
    }
  ],
  "resolve": {"axis": {"x": "independent", "y": "independent"}}
}
